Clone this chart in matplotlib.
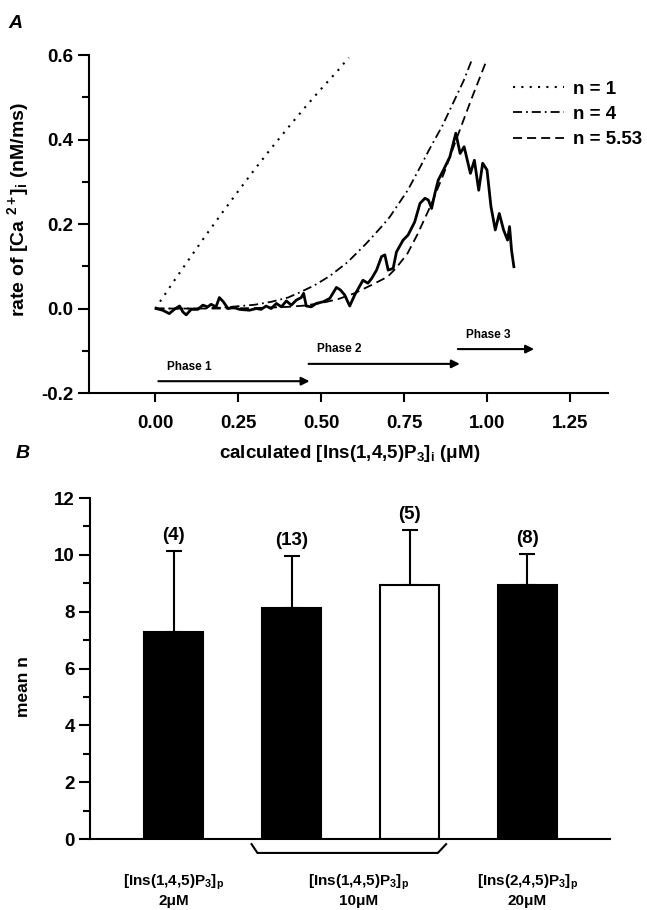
import numpy as np
import matplotlib
matplotlib.use("Agg")
import matplotlib.pyplot as plt
from matplotlib.ticker import MultipleLocator
import matplotlib.transforms as mtransforms

plt.rcParams['font.family'] = ['Liberation Sans', 'DejaVu Sans']
plt.rcParams['font.weight'] = 'bold'
plt.rcParams['mathtext.fontset'] = 'custom'
plt.rcParams['mathtext.rm'] = 'Liberation Sans:bold'
plt.rcParams['mathtext.it'] = 'Liberation Sans:italic:bold'
plt.rcParams['mathtext.bf'] = 'Liberation Sans:bold'
plt.rcParams['mathtext.default'] = 'rm'

# ---- panel A data ----
trace_x = [0.002, 0.022, 0.042, 0.057, 0.073, 0.083, 0.093, 0.108, 0.128, 0.143,
           0.158, 0.168, 0.183, 0.193, 0.205, 0.219, 0.234, 0.254, 0.284, 0.304,
           0.319, 0.334, 0.349, 0.365, 0.380, 0.395, 0.410, 0.425, 0.440, 0.447,
           0.455, 0.470, 0.485, 0.506, 0.526, 0.546, 0.558, 0.571, 0.586, 0.601,
           0.626, 0.641, 0.652, 0.667, 0.682, 0.692, 0.702, 0.717, 0.727, 0.747,
           0.762, 0.782, 0.798, 0.813, 0.823, 0.833, 0.843, 0.853, 0.870, 0.888,
           0.906, 0.919, 0.931, 0.950, 0.962, 0.975, 0.987, 1.000, 1.012, 1.025,
           1.037, 1.050, 1.062, 1.068, 1.074, 1.081]
trace_y = [0.000, -0.004, -0.012, -0.002, 0.006, -0.008, -0.015, -0.002, -0.002, 0.008,
           0.004, 0.010, 0.004, 0.026, 0.016, 0.000, 0.003, -0.002, -0.004, 0.000,
           -0.002, 0.006, 0.000, 0.012, 0.004, 0.018, 0.008, 0.020, 0.026, 0.036,
           0.006, 0.004, 0.012, 0.016, 0.024, 0.050, 0.044, 0.032, 0.006, 0.032,
           0.067, 0.060, 0.071, 0.091, 0.123, 0.127, 0.091, 0.095, 0.134, 0.162,
           0.174, 0.205, 0.249, 0.261, 0.257, 0.237, 0.273, 0.304, 0.330, 0.359,
           0.415, 0.367, 0.383, 0.320, 0.351, 0.280, 0.344, 0.328, 0.241, 0.186,
           0.225, 0.186, 0.162, 0.194, 0.138, 0.099]

n1_x = [0.0, 0.05, 0.10, 0.15, 0.20, 0.25, 0.30, 0.35, 0.40, 0.45, 0.50, 0.55, 0.583]
n1_y = [0.0, 0.058, 0.115, 0.171, 0.225, 0.278, 0.330, 0.380, 0.428, 0.475, 0.520, 0.563, 0.594]

n4_x = [0.0, 0.1, 0.2, 0.3, 0.35, 0.4, 0.435, 0.48, 0.526, 0.58, 0.636, 0.68, 0.707,
        0.761, 0.80, 0.825, 0.865, 0.90, 0.93, 0.955]
n4_y = [0.0, 0.0, 0.002, 0.009, 0.016, 0.026, 0.038, 0.055, 0.077, 0.110, 0.154, 0.192, 0.217,
        0.280, 0.337, 0.375, 0.432, 0.490, 0.540, 0.590]

n553_x = [0.0, 0.2, 0.3, 0.4, 0.45, 0.5, 0.55, 0.6, 0.65, 0.7, 0.725, 0.76, 0.79,
          0.831, 0.87, 0.912, 0.955, 0.997]
n553_y = [0.0, 0.0, 0.001, 0.004, 0.007, 0.013, 0.022, 0.036, 0.055, 0.075, 0.095, 0.130, 0.175,
          0.245, 0.320, 0.410, 0.500, 0.584]

phase_labels = ['Phase 1', 'Phase 2', 'Phase 3']
phase_start = [0.009, 0.462, 0.912]
phase_end = [0.465, 0.918, 1.142]
phase_y = [-0.172, -0.131, -0.096]

# ---- panel B data ----
bar_pos = [0, 1, 2, 3]
bar_mean = [7.28, 8.12, 8.94, 8.94]
bar_err = [2.87, 1.84, 1.93, 1.09]
bar_fill = ['black', 'black', 'white', 'black']
bar_n = ['(4)', '(13)', '(5)', '(8)']
cat_x = [0, 1.57, 3.0]
cat_line1 = [r'[Ins(1,4,5)P$_3$]$_p$', r'[Ins(1,4,5)P$_3$]$_p$', r'[Ins(2,4,5)P$_3$]$_p$']
cat_line2 = ['2μM', '10μM', '20μM']

fig = plt.figure(figsize=(6.47, 9.10), dpi=100)

# ================= panel A =================
ax = fig.add_axes([0.1376, 0.5681, 0.8022, 0.3714])
ax.plot(n1_x, n1_y, color='k', lw=1.5, linestyle=(0, (1, 3.0)), label='n = 1')
ax.plot(n4_x, n4_y, color='k', lw=1.3, linestyle=(0, (5, 2.2, 1, 2.2)), label='n = 4')
ax.plot(n553_x, n553_y, color='k', lw=1.3, linestyle=(0, (5, 2.8)), label='n = 5.53')
ax.plot(trace_x, trace_y, color='k', lw=2.0)

ax.set_xlim(-0.2, 1.365)
ax.set_ylim(-0.2, 0.6)
ax.set_xticks([0.0, 0.25, 0.5, 0.75, 1.0, 1.25])
ax.set_xticklabels(['0.00', '0.25', '0.50', '0.75', '1.00', '1.25'])
ax.set_yticks([-0.2, 0.0, 0.2, 0.4, 0.6])
ax.set_yticklabels(['-0.2', '0.0', '0.2', '0.4', '0.6'])
ax.yaxis.set_minor_locator(MultipleLocator(0.1))
for s in ['top', 'right']:
    ax.spines[s].set_visible(False)
for s in ['left', 'bottom']:
    ax.spines[s].set_linewidth(1.5)
ax.tick_params(which='major', length=8, width=1.5, labelsize=13.5, pad=3)
ax.tick_params(axis='x', which='major', length=6.5, pad=9)
ax.tick_params(which='minor', length=5, width=1.5)

ax.set_ylabel(r'rate of [Ca $^{2+}$]$_i$ (nM/ms)', fontsize=14, fontweight='bold')
ax.yaxis.set_label_coords(-0.112, 0.544)
ax.set_xlabel(r'calculated [Ins(1,4,5)P$_3$]$_i$ (μM)', fontsize=13.5, fontweight='bold')
ax.xaxis.set_label_coords(0.503, -0.148)

for lab, x0, x1, yy in zip(phase_labels, phase_start, phase_end, phase_y):
    ax.annotate('', xy=(x1, yy), xytext=(x0, yy),
                arrowprops=dict(arrowstyle='-|>', lw=1.5, color='k',
                                mutation_scale=12, shrinkA=0, shrinkB=0))
    ax.text(x0 + 0.025, yy + 0.02, lab, fontsize=8.5, fontweight='bold',
            ha='left', va='bottom')

ax.legend(loc='upper left', bbox_to_anchor=(0.817, 0.925), frameon=False,
          fontsize=13.5, handlelength=2.7, handletextpad=0.5, labelspacing=0.44,
          borderpad=0, borderaxespad=0)

fig.text(15 / 647, 1 - 23 / 910, 'A', fontsize=14, fontstyle='italic',
         fontweight='bold', ha='center', va='center')

# ================= panel B =================
bx = fig.add_axes([0.1391, 0.0780, 0.8037, 0.3747])
bx.bar(bar_pos, bar_mean, width=0.5, color=bar_fill, edgecolor='k', linewidth=1.5, zorder=2)
bx.errorbar(bar_pos, bar_mean, yerr=[[0] * len(bar_err), bar_err], fmt='none',
            ecolor='k', elinewidth=1.5, capsize=6, capthick=1.5, zorder=1)
for x, m, e, t in zip(bar_pos, bar_mean, bar_err, bar_n):
    bx.annotate(t, xy=(x, m + e), xytext=(0, 5), textcoords='offset points',
                ha='center', va='bottom', fontsize=13.5, fontweight='bold')

bx.set_xlim(-0.71, 3.70)
bx.set_ylim(0, 12)
bx.set_yticks(np.arange(0, 13, 2))
bx.yaxis.set_minor_locator(MultipleLocator(1))
bx.set_xticks([])
for s in ['top', 'right']:
    bx.spines[s].set_visible(False)
for s in ['left', 'bottom']:
    bx.spines[s].set_linewidth(1.5)
bx.tick_params(which='major', length=8, width=1.5, labelsize=13.5, pad=3)
bx.tick_params(which='minor', length=5, width=1.5)
bx.set_ylabel('mean n', fontsize=12.5, fontweight='bold')
bx.yaxis.set_label_coords(-0.113, 0.446)

# bracket under the two 10 uM bars
bx.plot([0.66, 0.71, 2.24, 2.31], [-0.18, -0.49, -0.49, -0.18], color='k', lw=1.5,
        clip_on=False)

trans = mtransforms.blended_transform_factory(bx.transData, bx.transAxes)
for x, l1, l2 in zip(cat_x, cat_line1, cat_line2):
    bx.text(x, -0.126, l1, transform=trans, ha='center', va='center',
            fontsize=11, fontweight='bold')
    bx.text(x, -0.182, l2, transform=trans, ha='center', va='center',
            fontsize=11, fontweight='bold')

fig.text(23 / 647, 1 - 453 / 910, 'B', fontsize=14, fontstyle='italic',
         fontweight='bold', ha='center', va='center')

fig.savefig('out.png', dpi=100)
